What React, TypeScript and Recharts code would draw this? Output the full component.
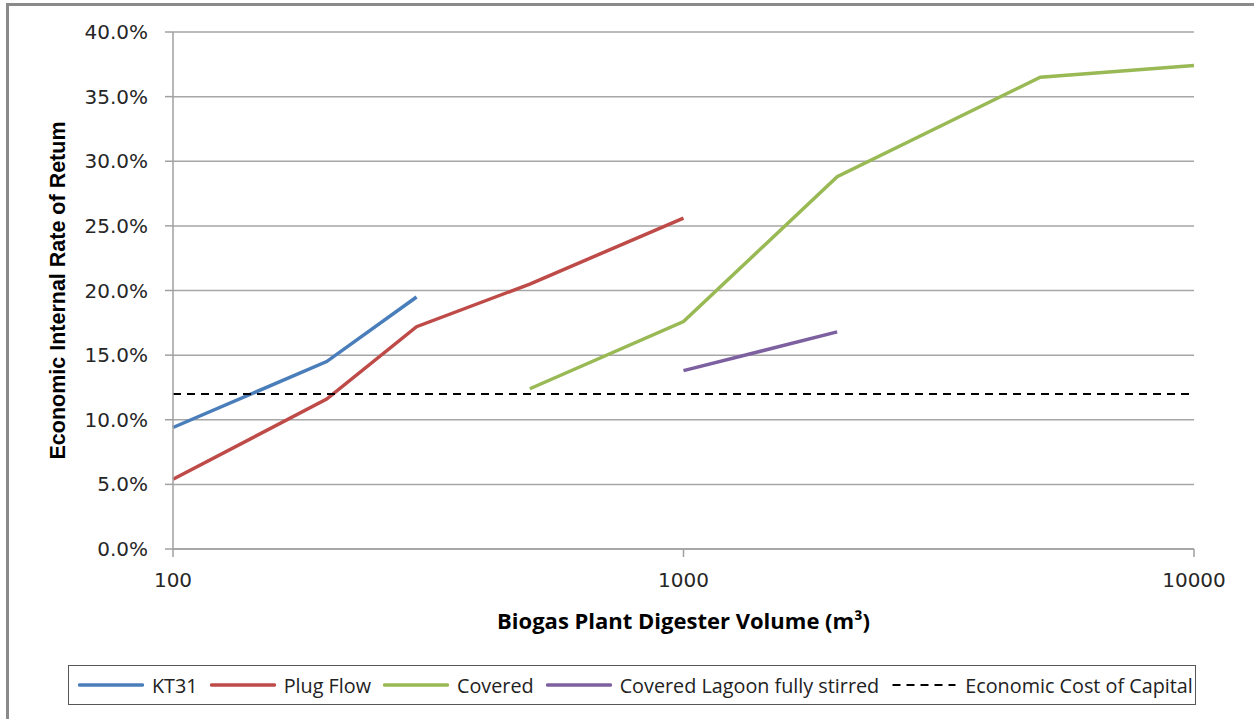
import React from 'react'
import { CartesianGrid, Line, LineChart, XAxis, YAxis } from 'recharts'

// values (volume in m3, EIRR in %)
const kt31Volume = [100, 200, 300]
const kt31Eirr = [9.4, 14.5, 19.5]
const plugFlowVolume = [100, 200, 300, 500, 1000]
const plugFlowEirr = [5.4, 11.6, 17.2, 20.5, 25.6]
const coveredVolume = [500, 1000, 2000, 5000, 10000]
const coveredEirr = [12.4, 17.6, 28.8, 36.5, 37.4]
const lagoonVolume = [1000, 2000]
const lagoonEirr = [13.8, 16.8]
const capitalVolume = [100, 10000]
const capitalRate = [12, 12]

const xTicks = [100, 1000, 10000]
const yTicks = [0, 5, 10, 15, 20, 25, 30, 35, 40]

const zip = (xs: number[], ys: number[]) => xs.map((x, i) => ({ x, y: ys[i] }))

const series = [
    { name: 'KT31', data: zip(kt31Volume, kt31Eirr), color: '#4a7ebb', width: 3.5, dash: undefined },
    { name: 'Plug Flow', data: zip(plugFlowVolume, plugFlowEirr), color: '#be4b48', width: 3.5, dash: undefined },
    { name: 'Covered', data: zip(coveredVolume, coveredEirr), color: '#98b954', width: 3.5, dash: undefined },
    { name: 'Covered Lagoon fully stirred', data: zip(lagoonVolume, lagoonEirr), color: '#7d60a0', width: 3.5, dash: undefined },
    { name: 'Economic Cost of Capital', data: zip(capitalVolume, capitalRate), color: '#000000', width: 2, dash: '8 6' },
]

const tickFont = { fontFamily: 'DejaVu Sans', fontSize: 20, fill: '#262626' }
const titleFont = { fontFamily: 'Open Sans', fontWeight: 700, fill: '#000' }

const ChartLegend = () => (
    <div style={{
        position: 'absolute', left: 68, top: 665, width: 1128, height: 40, boxSizing: 'border-box',
        border: '1.5px solid #555', display: 'flex', alignItems: 'center', paddingLeft: 9,
        fontFamily: 'Open Sans', fontSize: 19.8, color: '#222', whiteSpace: 'nowrap', overflow: 'hidden'
    }}>
        {series.map(s => (
            <div key={s.name} style={{ display: 'flex', alignItems: 'center', marginRight: 12 }}>
                <svg width={66} height={6} style={{ marginRight: 8 }}>
                    <line x1={1.5} y1={3} x2={64.5} y2={3} stroke={s.color} strokeWidth={s.width}
                        strokeDasharray={s.dash} strokeLinecap={s.dash ? 'butt' : 'round'} />
                </svg>
                <span>{s.name}</span>
            </div>
        ))}
    </div>
)

const App = () => {
    return (
        <div style={{ position: 'absolute', left: 0, top: 0, width: 1254, height: 719, background: '#fff', overflow: 'hidden' }}>
            <div style={{ position: 'absolute', left: 6, top: 3, width: 1300, height: 800, border: '3px solid #8a8a8a' }} />
            <LineChart width={1254} height={719} margin={{ top: 32, right: 60, bottom: 140, left: 73 }}>
                <CartesianGrid vertical={false} stroke='#a6a6a6' strokeWidth={1.5} />
                <XAxis
                    dataKey='x'
                    type='number'
                    scale='log'
                    domain={[100, 10000]}
                    ticks={xTicks}
                    height={30}
                    tickSize={8}
                    tickMargin={16}
                    stroke='#a0a0a0'
                    strokeWidth={1.5}
                    tick={tickFont}
                    label={{
                        content: ({ viewBox }: any) => (
                            <text x={viewBox.x + viewBox.width / 2} y={viewBox.y + viewBox.height + 41}
                                textAnchor='middle' dominantBaseline='central' fontSize={22} {...titleFont}>
                                Biogas Plant Digester Volume (m³)
                            </text>
                        )
                    }}
                />
                <YAxis
                    type='number'
                    domain={[0, 40]}
                    ticks={yTicks}
                    width={100}
                    tickSize={8}
                    tickMargin={17}
                    stroke='#a0a0a0'
                    strokeWidth={1.5}
                    tick={tickFont}
                    tickFormatter={(v: number) => `${v.toFixed(1)}%`}
                    label={{
                        content: ({ viewBox }: any) => {
                            const cx = viewBox.x - 15
                            const cy = viewBox.y + viewBox.height / 2
                            return (
                                <text x={cx} y={cy} transform={`rotate(-90 ${cx} ${cy})`}
                                    textAnchor='middle' dominantBaseline='central' fontSize={21.5} {...titleFont}
                                    fontFamily='Liberation Sans'>
                                    Economic Internal Rate of Retum
                                </text>
                            )
                        }
                    }}
                />
                {series.map(s => (
                    <Line
                        key={s.name}
                        name={s.name}
                        data={s.data}
                        dataKey='y'
                        type='linear'
                        stroke={s.color}
                        strokeWidth={s.width}
                        strokeDasharray={s.dash}
                        dot={false}
                        activeDot={false}
                        isAnimationActive={false}
                    />
                ))}
            </LineChart>
            <ChartLegend />
        </div>
    )
}

export default App
